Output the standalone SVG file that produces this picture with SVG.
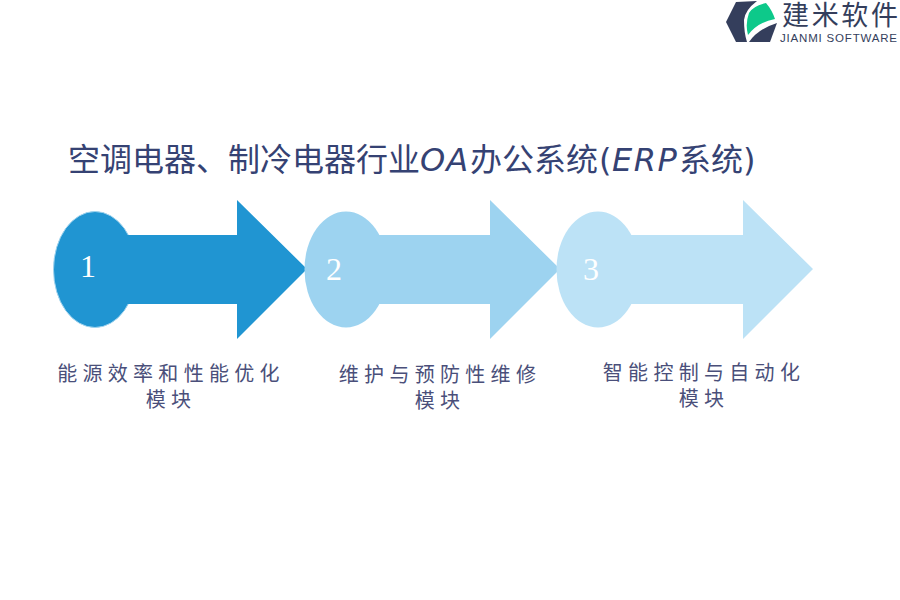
<svg xmlns="http://www.w3.org/2000/svg" width="900" height="600" viewBox="0 0 900 600">
<style>
text{font-family:"Noto Sans CJK SC","Liberation Sans",sans-serif}
.title{font-size:32px;fill:#354273}
.lat{font-family:"DejaVu Sans",sans-serif}
.num{font-family:"Liberation Serif",serif;font-size:32px;fill:#fff;text-anchor:middle}
.cap{font-size:20px;fill:#4a4f7a;text-anchor:middle;letter-spacing:5.300px}
</style>
<rect width="900" height="600" fill="#fff"/>
<g id="logo">
<path d="M726 22L736 2L757 1Q745 10 744 20Q744 33 747 42L736 42Z" fill="#343e5c"/>
<path d="M749 13Q753 6 766 3Q772 10 775 19Q758 22 748 35Q745 24 749 13Z" fill="#0dc98a"/>
<path d="M749 42Q758 29 777 23L770 42Z" fill="#343e5c"/>
<text x="782" y="25" fill="#343e5c" style="font-size:27px" textLength="116">建米软件</text>
<text x="780" y="42" style="font-family:'Liberation Sans',sans-serif;font-size:11.500px" fill="#343e5c" textLength="117">JIANMI SOFTWARE</text>
</g>
<text class="title" x="68" y="171">空调电器、制冷电器行业<tspan class="lat" x="420" font-style="italic" letter-spacing="1">OA</tspan><tspan x="470">办公系统</tspan><tspan class="lat" x="599">(</tspan><tspan class="lat" x="612" font-style="italic" letter-spacing="1.500">ERP</tspan><tspan x="679">系统</tspan><tspan class="lat" x="743">)</tspan></text>
<g id="node-1">
<ellipse cx="95" cy="269.500" rx="41.500" ry="58" fill="#2095d2" stroke="#9fd3ee" stroke-width="1"/>
<path d="M120 235H237V200L307 269L237 339V304H120Z" fill="#2095d2"/>
<text class="num" x="88" y="277">1</text>
<text class="cap" x="171" y="381">能源效率和性能优化</text>
<text class="cap" x="171" y="407">模块</text>
</g>
<g id="node-2">
<ellipse cx="346" cy="269.500" rx="41.500" ry="58" fill="#9dd3f0"/>
<path d="M372 235H490V200L560 269L490 339V304H372Z" fill="#9dd3f0"/>
<text class="num" x="334" y="280">2</text>
<text class="cap" x="440" y="382">维护与预防性维修</text>
<text class="cap" x="440" y="408">模块</text>
</g>
<g id="node-3">
<ellipse cx="598" cy="269.500" rx="41.500" ry="58" fill="#bce2f6"/>
<path d="M624 235H743V200L813 269L743 339V304H624Z" fill="#bce2f6"/>
<text class="num" x="591" y="280">3</text>
<text class="cap" x="704" y="380">智能控制与自动化</text>
<text class="cap" x="704" y="406">模块</text>
</g>
<g id="connectors"/>
</svg>
